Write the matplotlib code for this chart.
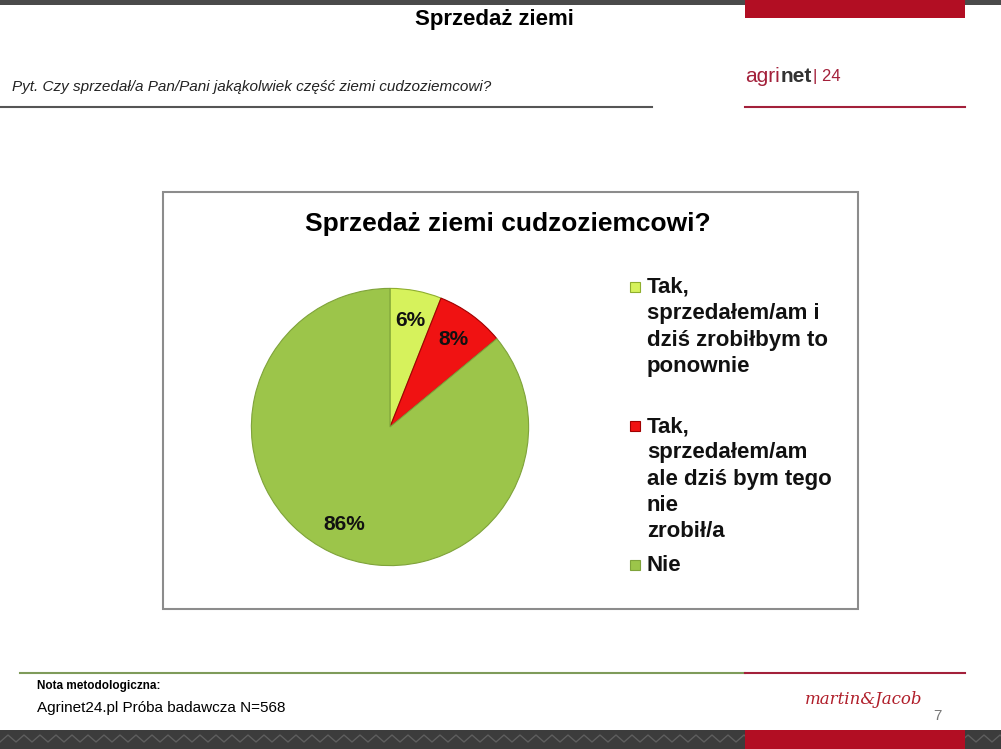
import matplotlib.pyplot as plt
from matplotlib.patches import Rectangle
from matplotlib.lines import Line2D

W, H = 1001, 749

slide_title = "Sprzedaż ziemi"
question = "Pyt. Czy sprzedał/a Pan/Pani jakąkolwiek część ziemi cudzoziemcowi?"
chart_title = "Sprzedaż ziemi cudzoziemcowi?"
categories = [
    "Tak,\nsprzedałem/am i\ndziś zrobiłbym to\nponownie",
    "Tak,\nsprzedałem/am\nale dziś bym tego\nnie\nzrobił/a",
    "Nie",
]
shares = [6, 8, 86]
colors = ["#D6F25C", "#F01212", "#9CC54A"]
edge_colors = ["#8FAE2E", "#A00000", "#7FA33A"]

plt.rcParams['font.family'] = ['Liberation Sans', 'DejaVu Sans']

fig = plt.figure(figsize=(W / 100, H / 100), dpi=100)
fig.patch.set_facecolor("white")


def fx(x):
    return x / W


def fy(y):
    return 1 - y / H


def rect(x0, y0, x1, y1, color, z=1, **kw):
    fig.patches.append(Rectangle((fx(x0), fy(y1)), fx(x1) - fx(x0), fy(y0) - fy(y1),
                                 transform=fig.transFigure, facecolor=color,
                                 edgecolor=kw.pop("edgecolor", "none"), zorder=z, **kw))


def hline(x0, x1, y, color, lw):
    fig.lines.append(Line2D([fx(x0), fx(x1)], [fy(y), fy(y)], transform=fig.transFigure,
                            color=color, lw=lw))


# header
rect(0, 0, W, 5, "#4a4a4a")
rect(745, 0, 965, 18, "#B20E23")
fig.text(fx(494), fy(20), slide_title, ha="center", va="center", fontsize=16,
         fontweight="bold", color="black")
fig.text(fx(12), fy(87), question, ha="left", va="center", fontsize=11,
         fontstyle="italic", color="#222222")
hline(0, 652, 107, "#555555", 1.5)
fig.text(fx(745), fy(76), "agri", ha="left", va="center", fontsize=15, color="#A3203A")
fig.text(fx(781), fy(76), "net", ha="left", va="center", fontsize=15,
         fontweight="bold", color="#333333")
fig.text(fx(813), fy(76), "| 24", ha="left", va="center", fontsize=12, color="#A3203A")
hline(745, 965, 107, "#A3203A", 1.5)

# chart box
rect(163, 192, 858, 609, "white", edgecolor="#8c8c8c", linewidth=1.5)
fig.text(fx(508), fy(224), chart_title, ha="center", va="center", fontsize=19,
         fontweight="bold", color="black")

# pie
ax = fig.add_axes([fx(250), fy(567), fx(530) - fx(250), fy(287) - fy(567)])
ax.set_zorder(5)
ax.patch.set_visible(False)
wedges, texts, autotexts = ax.pie(
    shares, colors=colors, startangle=90, counterclock=False,
    autopct='%.0f%%', pctdistance=0.78,
    wedgeprops=dict(linewidth=0.8),
    textprops=dict(fontsize=15, fontweight="bold", color="#111111"))
for w, ec in zip(wedges, edge_colors):
    w.set_edgecolor(ec)
ax.set_xlim(-1.01, 1.01)
ax.set_ylim(-1.01, 1.01)
ax.set_aspect("equal")
ax.axis("off")

# legend
legend_y = [287, 426, 565]
for label, col, ec, y in zip(categories, colors, edge_colors, legend_y):
    rect(630, y - 5, 640, y + 5, col, z=3, edgecolor=ec, linewidth=0.8)
    fig.text(fx(647), fy(y - 10), label, ha="left", va="top", fontsize=16,
             fontweight="bold", color="#111111", linespacing=1.33)

# footer
hline(20, 745, 673, "#7E9B5A", 1.5)
hline(745, 965, 673, "#A3203A", 1.5)
fig.text(fx(37), fy(686), "Nota metodologiczna:", ha="left", va="center", fontsize=8.5,
         fontweight="bold", color="black")
fig.text(fx(37), fy(708), "Agrinet24.pl Próba badawcza N=568", ha="left", va="center",
         fontsize=11, color="black")
fig.text(fx(805), fy(700), "martin&Jacob", ha="left", va="center", fontsize=12,
         fontstyle="italic", family=["DejaVu Serif"], color="#B01E2A")
fig.text(fx(937), fy(716), "7", ha="center", va="center", fontsize=11, color="#777777")

rect(0, 730, W, H, "#3c3c3c")
zig_x = []
zig_y = []
for i in range(0, W + 16, 8):
    zig_x.append(i)
    zig_y.append(742 if (i // 8) % 2 == 0 else 735)
fig.lines.append(Line2D([fx(v) for v in zig_x], [fy(v) for v in zig_y],
                        transform=fig.transFigure, color="#5e5e5e", lw=1))
rect(745, 730, 965, H, "#B20E23", z=4)

fig.savefig("out.png", dpi=100)
